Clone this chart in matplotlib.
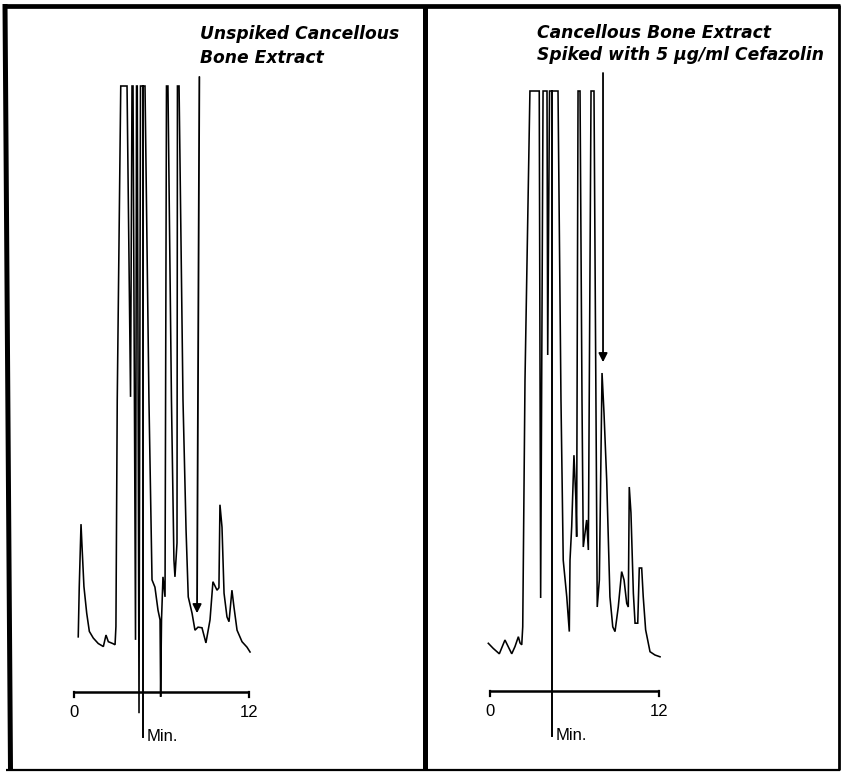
import matplotlib
matplotlib.use("Agg")
import matplotlib.pyplot as plt
from matplotlib.lines import Line2D

W, H, DPI = 841, 773, 100

# ---------------- data (time in min, detector response in % of full scale) -------------
left_time = [0.29, 0.36, 0.48, 0.55, 0.68, 0.87, 1.05, 1.32, 1.66, 2.01, 2.19, 2.35, 2.65,
             2.81, 2.87, 2.96, 3.20, 3.63, 3.87, 3.97, 4.04, 4.21, 4.28, 4.33, 4.45, 4.55,
             4.86, 5.13, 5.34,
             5.54, 5.75, 5.89, 5.93, 5.99, 6.09, 6.23, 6.33, 6.43, 6.67, 6.84, 6.91, 6.98,
             7.05, 7.08, 7.19, 7.46, 7.67, 7.82, 8.08, 8.28, 8.49, 8.76, 9.03, 9.31, 9.51,
             9.79, 9.92, 9.99, 10.13, 10.27, 10.47, 10.61, 10.81, 10.95, 11.16, 11.50,
             11.84, 12.05]
left_resp = [9.1, 17.4, 27.7, 24.0, 17.4, 13.0, 10.0, 8.9, 8.0, 7.5, 9.4, 8.3, 8.0,
             7.8, 10.8, 48.2, 100, 100, 48.7, 100, 100, 8.6, 100, 100, -3.5, 100,
             100, 48.2, 18.5,
             17.3, 13.5, 11.9, -0.8, 11.9, 19.0, 15.7, 100, 100, 48.2, 21.8, 19.0, 21.8,
             24.6, 100, 100, 48.2, 26.7, 15.7, 13.0, 10.2, 10.7, 10.6, 8.1, 11.9, 18.2,
             16.8, 17.2, 30.9, 27.2, 16.3, 12.4, 11.6, 16.8, 14.0, 10.2, 8.3,
             7.4, 6.6]

right_time = [-0.12, 0.23, 0.66, 1.06, 1.54, 1.77, 2.01, 2.13, 2.25, 2.32, 2.48, 2.83,
              3.49, 3.59, 3.76, 4.04, 4.09, 4.22, 4.82, 5.03, 5.19, 5.44, 5.62, 5.67,
              5.79, 5.95, 6.09, 6.14, 6.24, 6.38, 6.52, 6.61, 6.85, 6.97, 7.16, 7.37,
              7.60, 7.75, 7.94, 8.08, 8.27, 8.50, 8.70, 8.86, 9.09, 9.33, 9.50, 9.69,
              9.80, 9.87, 9.99, 10.16, 10.28, 10.47, 10.58, 10.75, 10.86, 11.03, 11.34,
              11.69, 12.05]
right_resp = [7.95, 7.1, 6.2, 8.5, 6.2, 7.4, 9.05, 8.0, 7.7, 10.7, 51.8, 100,
              100, 15.5, 100, 100, 56.0, 100, 100, 48.5, 21.8, 15.7, 9.9, 21.8,
              27.4, 39.3, 31.8, 25.7, 100, 100, 48.5, 24.0, 28.5, 23.5, 100, 100,
              14.0, 18.5, 53.0, 46.3, 35.2, 15.7, 10.7, 9.9, 14.0, 19.9, 18.5, 14.6,
              14.0, 34.0, 29.7, 16.3, 11.3, 11.3, 20.5, 20.5, 15.7, 10.2, 6.55,
              6.0, 5.7]

tick_values = [0, 12]
tick_labels = ["0", "12"]
axis_label = "Min."
left_title = ["Unspiked Cancellous", "Bone Extract"]
right_title = ["Cancellous Bone Extract", "Spiked with 5 \u03bcg/ml Cefazolin"]
left_marker_time = 4.70
right_marker_time = 4.37
marker_span = [100, -7.5]
left_arrow_time = [8.58, 8.42]     # tail, tip
left_arrow_resp = [101.5, 13.0]
right_arrow_time = [8.01, 8.01]
right_arrow_resp = [103.0, 54.8]

# ---------------- layout ----------------
fig = plt.figure(figsize=(W / DPI, H / DPI), dpi=DPI)
fig.patch.set_facecolor("white")

# frame axes in pixel coordinates
frame = fig.add_axes([0, 0, 1, 1])
frame.set_xlim(0, W)
frame.set_ylim(H, 0)
frame.axis("off")
for (xs, ys, lw) in [([5, 10.5], [4, 770], 3.6),       # left border
                     ([3, 840], [6, 6], 3.4),           # top border
                     ([839, 839], [5, 770], 2.0),       # right border
                     ([6, 840], [769.5, 769.5], 1.6),   # bottom border
                     ([425.5, 425.5], [5, 770], 3.6)]:  # divider
    frame.add_line(Line2D(xs, ys, color="black", lw=lw, solid_capstyle="butt"))


def data_axes(x0, y0, sx, sy):
    """Axes covering the figure, with t=0,r=0 at pixel (x0,y0)."""
    ax = fig.add_axes([0, 0, 1, 1])
    ax.set_xlim(-x0 / sx, (W - x0) / sx)
    ax.set_ylim(-(H - y0) / sy, y0 / sy)
    ax.axis("off")
    ax.patch.set_alpha(0)
    return ax


def draw_panel(ax, t, r, marker_t, arrow_t, arrow_r, title, title_x, title_base):
    ax.plot(t, r, color="black", lw=1.15, solid_joinstyle="miter")
    # time axis
    ax.plot([tick_values[0], tick_values[-1]], [0, 0], color="black", lw=1.8,
            solid_capstyle="butt")
    for tv, tl in zip(tick_values, tick_labels):
        ax.plot([tv, tv], [0, -0.8], color="black", lw=1.6)
        ax.text(tv, -3.4, tl, ha="center", va="center", fontsize=12,
                family="Liberation Sans")
    # injection / time marker
    ax.plot([marker_t, marker_t], marker_span, color="black", lw=1.4)
    ax.text(marker_t + 0.3, -7.4, axis_label, ha="left", va="center", fontsize=12,
            family="Liberation Sans")
    # arrow
    ax.annotate("", xy=(arrow_t[1], arrow_r[1]), xytext=(arrow_t[0], arrow_r[0]),
                arrowprops=dict(arrowstyle="-|>", color="black", lw=1.3,
                                mutation_scale=13, shrinkA=0, shrinkB=0))
    for line, yb in zip(title, title_base):
        frame.text(title_x, yb, line, ha="left", va="baseline", fontsize=12.3,
                   fontweight="bold", fontstyle="oblique", family="DejaVu Sans")


axL = data_axes(74, 692, 14.61, 6.06)
draw_panel(axL, left_time, left_resp, left_marker_time, left_arrow_time, left_arrow_resp,
           left_title, 200, [39, 63])

axR = data_axes(490, 691, 14.11, 6.0)
draw_panel(axR, right_time, right_resp, right_marker_time, right_arrow_time,
           right_arrow_resp, right_title, 537, [38.5, 60.5])

fig.savefig("out.png", dpi=DPI, facecolor="white")
